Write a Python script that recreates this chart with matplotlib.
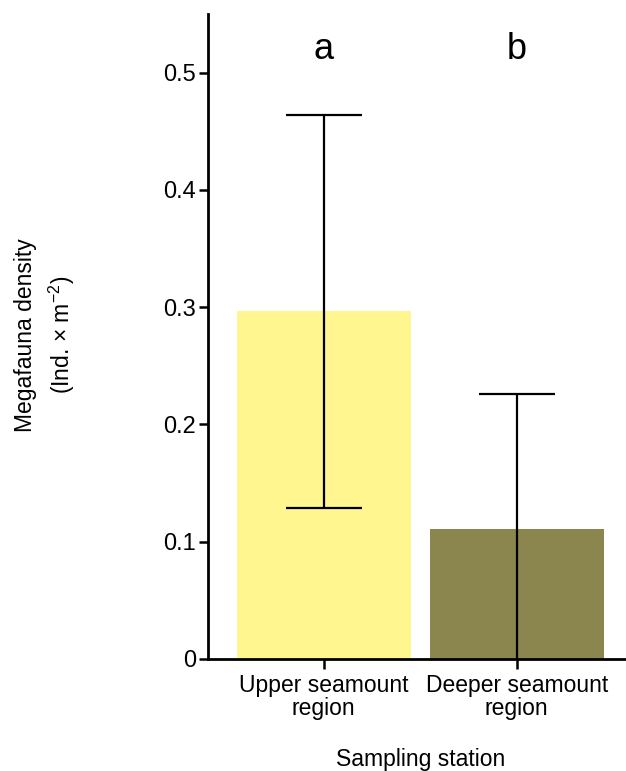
import numpy as np
import matplotlib
matplotlib.use('Agg')
import matplotlib.pyplot as plt

plt.rcParams['font.family'] = ['Liberation Sans', 'DejaVu Sans']
plt.rcParams['mathtext.fontset'] = 'custom'
plt.rcParams['mathtext.rm'] = 'Liberation Sans'
plt.rcParams['mathtext.default'] = 'regular'

stations = ['Upper seamount\nregion', 'Deeper seamount\nregion']
density = [0.297, 0.111]
err_low = [0.129, -0.01]
err_high = [0.464, 0.226]
colors = ['#FFF68F', '#8B864E']
letters = ['a', 'b']

x = np.arange(len(stations))

fig = plt.figure(figsize=(6.26, 7.71), dpi=100)
ax = fig.add_axes([0.3323, 0.1453, 0.678, 0.8366])

ax.bar(x, density, width=0.9, color=colors)
yerr = [np.array(density) - np.array(err_low), np.array(err_high) - np.array(density)]
ax.errorbar(x, density, yerr=yerr, fmt='none', ecolor='black', elinewidth=1.6,
            capsize=27.5, capthick=1.6)

for xi, lab in zip(x, letters):
    ax.text(xi, 0.52, lab, ha='center', va='center', fontsize=26)

ax.set_xlim(-0.6, 1.6)
ax.set_ylim(0, 0.55)
ax.set_yticks([0, 0.1, 0.2, 0.3, 0.4, 0.5])
ax.set_yticklabels(['0', '0.1', '0.2', '0.3', '0.4', '0.5'])
ax.set_xticks(x)
ax.set_xticklabels(stations, fontsize=16.5, linespacing=1.05)
ax.tick_params(axis='y', labelsize=17, length=6.5, width=1.8, pad=2)
ax.tick_params(axis='x', length=7.5, width=1.8, pad=3)

for s in ['top', 'right']:
    ax.spines[s].set_visible(False)
for s in ['left', 'bottom']:
    ax.spines[s].set_linewidth(2)

ax.set_xlabel('Sampling station', fontsize=16.5, labelpad=20)

fig.text(0.041, 0.565, 'Megafauna density', rotation=90, ha='center', va='center', fontsize=16.5)
fig.text(0.099, 0.565, '(Ind. × m$^{-2}$)', rotation=90, ha='center', va='center', fontsize=16.5)

fig.savefig('out.png', dpi=100)
